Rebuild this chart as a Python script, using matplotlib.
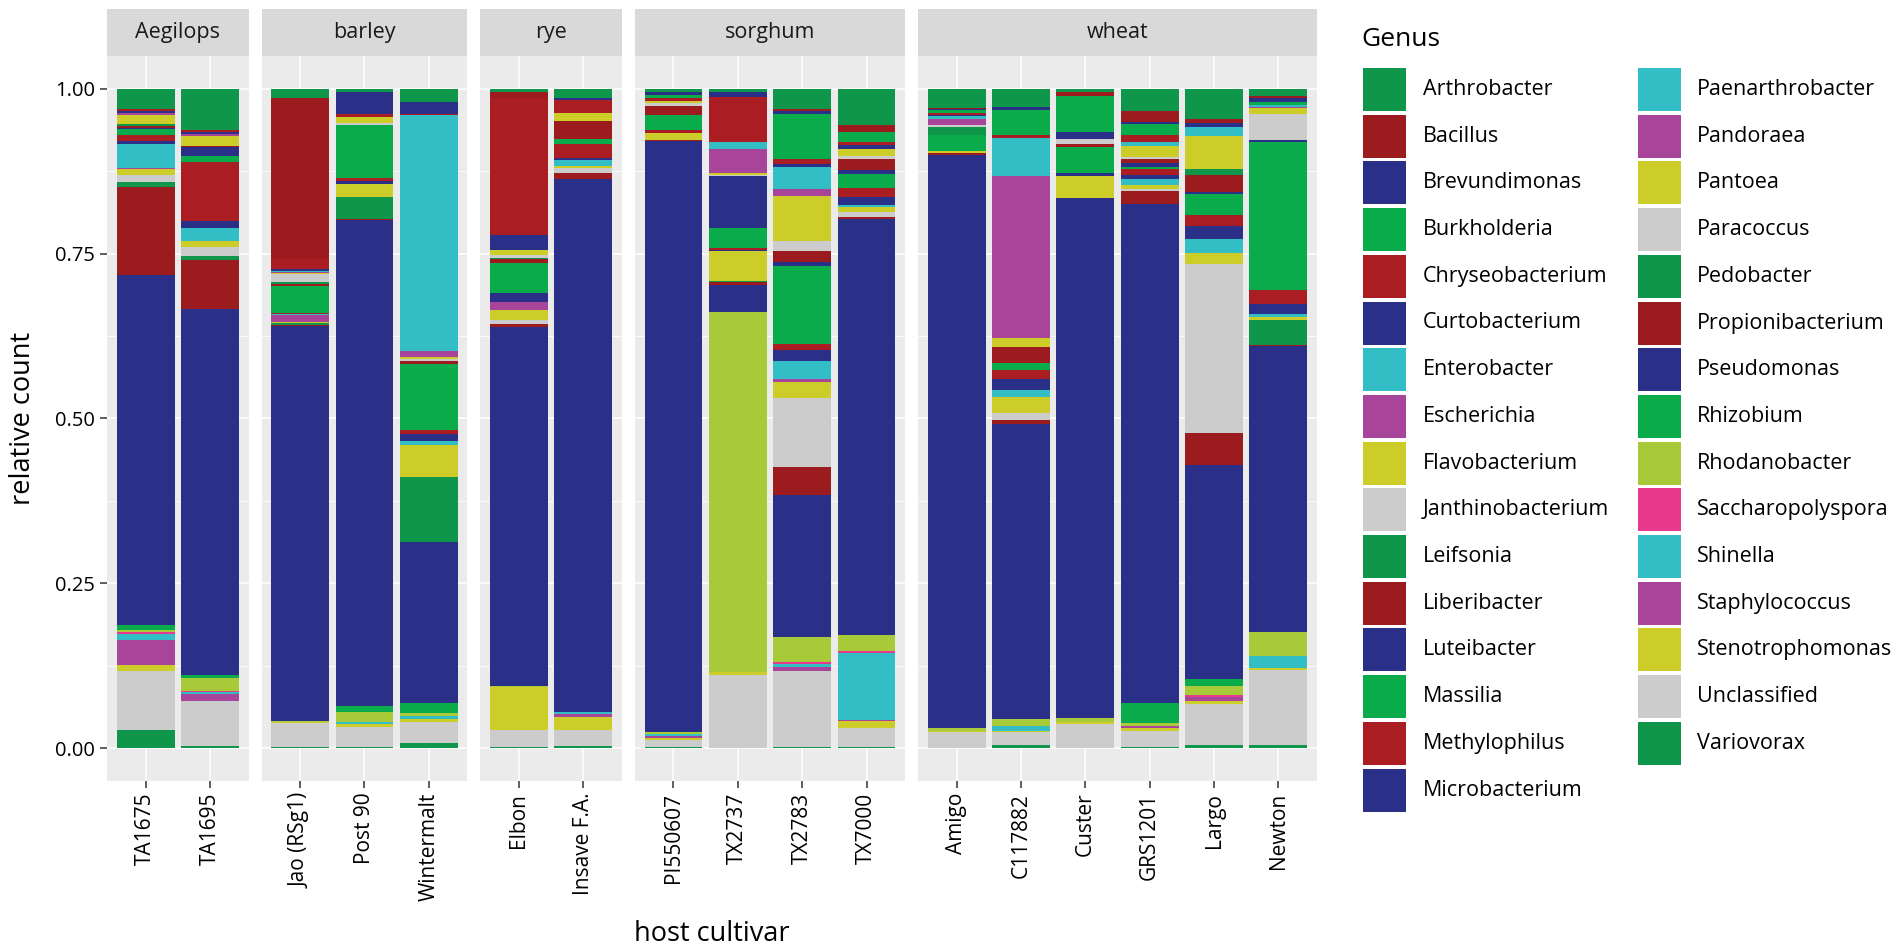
import matplotlib
matplotlib.use('Agg')
import matplotlib.pyplot as plt
from matplotlib.patches import Rectangle

plt.rcParams['font.family'] = ['Open Sans', 'DejaVu Sans']

# legend order (first level is drawn on top of each bar)
genera = ['Arthrobacter', 'Bacillus', 'Brevundimonas', 'Burkholderia', 'Chryseobacterium',
          'Curtobacterium', 'Enterobacter', 'Escherichia', 'Flavobacterium', 'Janthinobacterium',
          'Leifsonia', 'Liberibacter', 'Luteibacter', 'Massilia', 'Methylophilus', 'Microbacterium',
          'Paenarthrobacter', 'Pandoraea', 'Pantoea', 'Paracoccus', 'Pedobacter', 'Propionibacterium',
          'Pseudomonas', 'Rhizobium', 'Rhodanobacter', 'Saccharopolyspora', 'Shinella',
          'Staphylococcus', 'Stenotrophomonas', 'Unclassified', 'Variovorax']

DG, DR, NV, BG, RD = '#10964a', '#9b1b1f', '#2a2f87', '#0aab4a', '#aa1d23'
CY, MG, YL, GY, YG, PK = '#33bec5', '#a8459b', '#cccd29', '#cccccc', '#a8c938', '#e83a8c'
genus_colors = [DG, DR, NV, BG, RD, NV, CY, MG, YL, GY,
                DG, DR, NV, BG, RD, NV, CY, MG, YL, GY,
                DG, DR, NV, BG, YG, PK, CY, MG, YL, GY, DG]

hosts = ['Aegilops', 'barley', 'rye', 'sorghum', 'wheat']
cultivars = [['TA1675', 'TA1695'],
             ['Jao (RSg1)', 'Post 90', 'Wintermalt'],
             ['Elbon', 'Insave F.A.'],
             ['PI550607', 'TX2737', 'TX2783', 'TX7000'],
             ['Amigo', 'C117882', 'Custer', 'GRS1201', 'Largo', 'Newton']]

# relative counts
ta1675 = {'Variovorax': .027, 'Unclassified': .090, 'Stenotrophomonas': .009, 'Staphylococcus': .039,
          'Shinella': .009, 'Saccharopolyspora': .003, 'Rhodanobacter': .003, 'Rhizobium': .008,
          'Pseudomonas': .534, 'Propionibacterium': .134, 'Pedobacter': .008, 'Paracoccus': .010,
          'Pantoea': .010, 'Pandoraea': .002, 'Paenarthrobacter': .036, 'Microbacterium': .005,
          'Methylophilus': .009, 'Massilia': .009, 'Luteibacter': .002, 'Liberibacter': .003,
          'Leifsonia': .002, 'Flavobacterium': .014, 'Escherichia': .003, 'Enterobacter': .001,
          'Curtobacterium': .003, 'Chryseobacterium': .003, 'Arthrobacter': .030}
ta1695 = {'Variovorax': .003, 'Unclassified': .067, 'Staphylococcus': .011, 'Shinella': .003,
          'Saccharopolyspora': .002, 'Rhodanobacter': .020, 'Rhizobium': .004, 'Pseudomonas': .550,
          'Propionibacterium': .074, 'Pedobacter': .006, 'Paracoccus': .013, 'Pantoea': .009,
          'Paenarthrobacter': .020, 'Microbacterium': .010, 'Methylophilus': .089, 'Massilia': .009,
          'Luteibacter': .013, 'Liberibacter': .002, 'Flavobacterium': .015, 'Escherichia': .003,
          'Curtobacterium': .004, 'Chryseobacterium': .003, 'Arthrobacter': .061}
jao = {'Variovorax': .002, 'Unclassified': .036, 'Stenotrophomonas': .002, 'Rhodanobacter': .001,
       'Pseudomonas': .600, 'Propionibacterium': .002, 'Pedobacter': .003, 'Pantoea': .002,
       'Pandoraea': .011, 'Paenarthrobacter': .001, 'Methylophilus': .002, 'Massilia': .041,
       'Liberibacter': .003, 'Leifsonia': .002, 'Janthinobacterium': .012, 'Flavobacterium': .002,
       'Escherichia': .001, 'Enterobacter': .003, 'Curtobacterium': .002, 'Chryseobacterium': .015,
       'Bacillus': .246, 'Arthrobacter': .013}
post90 = {'Variovorax': .002, 'Unclassified': .030, 'Stenotrophomonas': .004, 'Shinella': .003,
          'Rhodanobacter': .016, 'Rhizobium': .008, 'Pseudomonas': .733, 'Propionibacterium': .001,
          'Pedobacter': .033, 'Pantoea': .020, 'Microbacterium': .004, 'Methylophilus': .005,
          'Massilia': .079, 'Janthinobacterium': .003, 'Flavobacterium': .009,
          'Chryseobacterium': .005, 'Brevundimonas': .033, 'Arthrobacter': .005}
wintermalt = {'Variovorax': .007, 'Unclassified': .033, 'Stenotrophomonas': .004, 'Shinella': .004,
              'Rhodanobacter': .005, 'Rhizobium': .015, 'Pseudomonas': .243, 'Propionibacterium': .001,
              'Pedobacter': .098, 'Pantoea': .049, 'Paenarthrobacter': .006, 'Microbacterium': .010,
              'Methylophilus': .006, 'Massilia': .100, 'Liberibacter': .004, 'Janthinobacterium': .004,
              'Flavobacterium': .003, 'Escherichia': .009, 'Enterobacter': .356,
              'Chryseobacterium': .002, 'Brevundimonas': .018, 'Arthrobacter': .020}
elbon = {'Variovorax': .001, 'Unclassified': .027, 'Stenotrophomonas': .064, 'Rhodanobacter': .002,
         'Pseudomonas': .544, 'Propionibacterium': .004, 'Paracoccus': .006, 'Pantoea': .015,
         'Pandoraea': .013, 'Microbacterium': .013, 'Massilia': .045, 'Liberibacter': .006,
         'Leifsonia': .002, 'Janthinobacterium': .004, 'Flavobacterium': .008,
         'Curtobacterium': .023, 'Chryseobacterium': .208, 'Bacillus': .008, 'Arthrobacter': .005}
insave = {'Variovorax': .003, 'Unclassified': .024, 'Stenotrophomonas': .020, 'Staphylococcus': .004,
          'Shinella': .003, 'Pseudomonas': .806, 'Propionibacterium': .009, 'Paracoccus': .007,
          'Pantoea': .004, 'Paenarthrobacter': .008, 'Microbacterium': .004, 'Methylophilus': .021,
          'Massilia': .008, 'Liberibacter': .027, 'Flavobacterium': .011, 'Chryseobacterium': .021,
          'Brevundimonas': .003, 'Arthrobacter': .013}
pi550607 = {'Variovorax': .001, 'Unclassified': .011, 'Stenotrophomonas': .003, 'Staphylococcus': .003,
            'Shinella': .003, 'Rhodanobacter': .003, 'Pseudomonas': .897, 'Propionibacterium': .002,
            'Pantoea': .010, 'Methylophilus': .005, 'Massilia': .023, 'Liberibacter': .013,
            'Janthinobacterium': .004, 'Flavobacterium': .004, 'Chryseobacterium': .004,
            'Burkholderia': .005, 'Brevundimonas': .004, 'Arthrobacter': .005}
tx2737 = {'Unclassified': .111, 'Stenotrophomonas': .004, 'Rhodanobacter': .544, 'Pseudomonas': .040,
          'Propionibacterium': .005, 'Pedobacter': .002, 'Pantoea': .045, 'Microbacterium': .002,
          'Methylophilus': .003, 'Massilia': .030, 'Luteibacter': .078, 'Janthinobacterium': .002,
          'Flavobacterium': .003, 'Escherichia': .036, 'Enterobacter': .011,
          'Chryseobacterium': .068, 'Brevundimonas': .008, 'Arthrobacter': .004}
tx2783 = {'Variovorax': .002, 'Unclassified': .114, 'Staphylococcus': .006, 'Shinella': .004,
          'Saccharopolyspora': .003, 'Rhodanobacter': .038, 'Pseudomonas': .214,
          'Propionibacterium': .042, 'Paracoccus': .105, 'Pantoea': .024, 'Pandoraea': .004,
          'Paenarthrobacter': .027, 'Microbacterium': .017, 'Methylophilus': .009, 'Massilia': .118,
          'Luteibacter': .005, 'Liberibacter': .017, 'Janthinobacterium': .015, 'Flavobacterium': .067,
          'Escherichia': .011, 'Enterobacter': .034, 'Curtobacterium': .004, 'Chryseobacterium': .008,
          'Burkholderia': .068, 'Brevundimonas': .004, 'Bacillus': .003, 'Arthrobacter': .030}
tx7000 = {'Variovorax': .002, 'Unclassified': .028, 'Stenotrophomonas': .011, 'Staphylococcus': .002,
          'Shinella': .101, 'Saccharopolyspora': .002, 'Rhodanobacter': .025, 'Pseudomonas': .629,
          'Propionibacterium': .003, 'Paracoccus': .007, 'Pantoea': .007, 'Paenarthrobacter': .003,
          'Microbacterium': .013, 'Methylophilus': .014, 'Massilia': .021, 'Luteibacter': .005,
          'Liberibacter': .017, 'Janthinobacterium': .005, 'Flavobacterium': .010,
          'Curtobacterium': .006, 'Chryseobacterium': .005, 'Burkholderia': .015, 'Bacillus': .010,
          'Arthrobacter': .055}
amigo = {'Unclassified': .024, 'Stenotrophomonas': .002, 'Rhodanobacter': .004, 'Pseudomonas': .865,
         'Propionibacterium': .003, 'Pantoea': .002, 'Massilia': .025, 'Leifsonia': .011,
         'Janthinobacterium': .004, 'Escherichia': .009, 'Enterobacter': .004, 'Curtobacterium': .002,
         'Chryseobacterium': .003, 'Burkholderia': .004, 'Brevundimonas': .002, 'Bacillus': .002,
         'Arthrobacter': .028}
c117882 = {'Variovorax': .005, 'Unclassified': .019, 'Stenotrophomonas': .002, 'Shinella': .008,
           'Rhodanobacter': .010, 'Pseudomonas': .449, 'Propionibacterium': .005, 'Paracoccus': .011,
           'Pantoea': .025, 'Paenarthrobacter': .010, 'Microbacterium': .017, 'Methylophilus': .014,
           'Massilia': .011, 'Liberibacter': .023, 'Flavobacterium': .014, 'Escherichia': .247,
           'Enterobacter': .058, 'Chryseobacterium': .004, 'Burkholderia': .038,
           'Brevundimonas': .004, 'Arthrobacter': .028}
custer = {'Unclassified': .036, 'Stenotrophomonas': .004, 'Rhodanobacter': .006, 'Pseudomonas': .786,
          'Pantoea': .034, 'Microbacterium': .004, 'Massilia': .039, 'Liberibacter': .004,
          'Janthinobacterium': .009, 'Curtobacterium': .010, 'Burkholderia': .055, 'Bacillus': .005,
          'Arthrobacter': .005}
grs1201 = {'Variovorax': .002, 'Unclassified': .024, 'Stenotrophomonas': .004, 'Staphylococcus': .004,
           'Rhodanobacter': .004, 'Rhizobium': .030, 'Pseudomonas': .758, 'Propionibacterium': .019,
           'Paracoccus': .003, 'Pantoea': .006, 'Paenarthrobacter': .009, 'Microbacterium': .006,
           'Methylophilus': .009, 'Massilia': .004, 'Luteibacter': .005, 'Liberibacter': .006,
           'Janthinobacterium': .003, 'Flavobacterium': .018, 'Enterobacter': .005,
           'Chryseobacterium': .011, 'Burkholderia': .017, 'Brevundimonas': .003, 'Bacillus': .017,
           'Arthrobacter': .033}
largo = {'Variovorax': .005, 'Unclassified': .061, 'Stenotrophomonas': .005, 'Staphylococcus': .006,
         'Saccharopolyspora': .002, 'Rhodanobacter': .014, 'Rhizobium': .010, 'Pseudomonas': .321,
         'Propionibacterium': .048, 'Paracoccus': .254, 'Pantoea': .017, 'Paenarthrobacter': .021,
         'Microbacterium': .019, 'Methylophilus': .017, 'Massilia': .032, 'Luteibacter': .003,
         'Liberibacter': .025, 'Leifsonia': .009, 'Flavobacterium': .049, 'Enterobacter': .014,
         'Curtobacterium': .006, 'Bacillus': .006, 'Arthrobacter': .045}
newton = {'Variovorax': .005, 'Unclassified': .112, 'Stenotrophomonas': .003, 'Shinella': .017,
          'Rhodanobacter': .036, 'Pseudomonas': .428, 'Propionibacterium': .002, 'Pedobacter': .036,
          'Pantoea': .005, 'Paenarthrobacter': .004, 'Microbacterium': .015, 'Methylophilus': .021,
          'Massilia': .221, 'Luteibacter': .004, 'Janthinobacterium': .039, 'Flavobacterium': .008,
          'Escherichia': .002, 'Enterobacter': .003, 'Burkholderia': .004, 'Brevundimonas': .006,
          'Bacillus': .003, 'Arthrobacter': .011}

counts = {'TA1675': ta1675, 'TA1695': ta1695, 'Jao (RSg1)': jao, 'Post 90': post90,
          'Wintermalt': wintermalt, 'Elbon': elbon, 'Insave F.A.': insave,
          'PI550607': pi550607, 'TX2737': tx2737, 'TX2783': tx2783, 'TX7000': tx7000,
          'Amigo': amigo, 'C117882': c117882, 'Custer': custer, 'GRS1201': grs1201,
          'Largo': largo, 'Newton': newton}
color_of = dict(zip(genera, genus_colors))

W, H = 1902, 952
fig = plt.figure(figsize=(W / 100, H / 100), dpi=100)
gs = fig.add_gridspec(1, 5, width_ratios=[len(c) + 0.2 for c in cultivars],
                      left=107 / W, right=1317 / W, bottom=1 - 781 / H, top=1 - 56 / H,
                      wspace=0.056)

for k, (host, cvs) in enumerate(zip(hosts, cultivars)):
    ax = fig.add_subplot(gs[0, k])
    ax.set_facecolor('#EBEBEB')
    for i, cv in enumerate(cvs):
        vals = counts[cv]
        total = sum(vals.values())
        bottom = 0
        for g in reversed(genera):
            v = vals.get(g, 0) / total
            if v > 0:
                ax.bar(i, v, 0.9, bottom=bottom, color=color_of[g], linewidth=0)
                bottom += v
    ax.set_xlim(-0.6, len(cvs) - 0.4)
    ax.set_ylim(-0.05, 1.05)
    ax.set_xticks(range(len(cvs)))
    ax.set_xticklabels(cvs, rotation=90, ha='center', va='top', fontsize=15)
    ax.set_yticks([0, 0.25, 0.5, 0.75, 1.0])
    ax.set_yticks([0.125, 0.375, 0.625, 0.875], minor=True)
    ax.set_yticklabels(['0.00', '0.25', '0.50', '0.75', '1.00'], fontsize=14.5)
    ax.set_axisbelow(True)
    ax.grid(which='major', color='white', linewidth=1.1)
    ax.grid(which='minor', axis='y', color='white', linewidth=0.55)
    ax.tick_params(which='major', length=5, width=1.1, color='#333333', pad=3.5,
                   labelcolor='black')
    ax.tick_params(which='minor', length=0)
    if k > 0:
        ax.tick_params(axis='y', left=False, labelleft=False)
    for s in ax.spines.values():
        s.set_visible(False)

    pos = ax.get_position()
    sax = fig.add_axes([pos.x0, pos.y1, pos.width, 47 / H])
    sax.set_facecolor('#D9D9D9')
    sax.set_xticks([])
    sax.set_yticks([])
    for s in sax.spines.values():
        s.set_visible(False)
    sax.text(0.5, 0.5, host, ha='center', va='center', fontsize=15.5, color='#1A1A1A',
             transform=sax.transAxes)

fig.text(23 / W, 1 - 418 / H, 'relative count', rotation=90, ha='center', va='center',
         fontsize=19.5)
fig.text(712 / W, 1 - 934 / H, 'host cultivar', ha='center', va='center', fontsize=19.5)

# legend
lax = fig.add_axes([0, 0, 1, 1])
lax.set_xlim(0, W)
lax.set_ylim(H, 0)
lax.axis('off')
lax.text(1361, 39.5, 'Genus', ha='left', va='center', fontsize=19)
for k, g in enumerate(genera):
    col, row = divmod(k, 16)
    x0 = [1363, 1637.5][col]
    y0 = 68 + row * 46.7
    lax.add_patch(Rectangle((x0, y0), 43, 43, facecolor=color_of[g], edgecolor='none'))
    lax.text([1423, 1697][col], y0 + 21.5, g, ha='left', va='center', fontsize=15.5)

fig.savefig('out.png', dpi=100)
